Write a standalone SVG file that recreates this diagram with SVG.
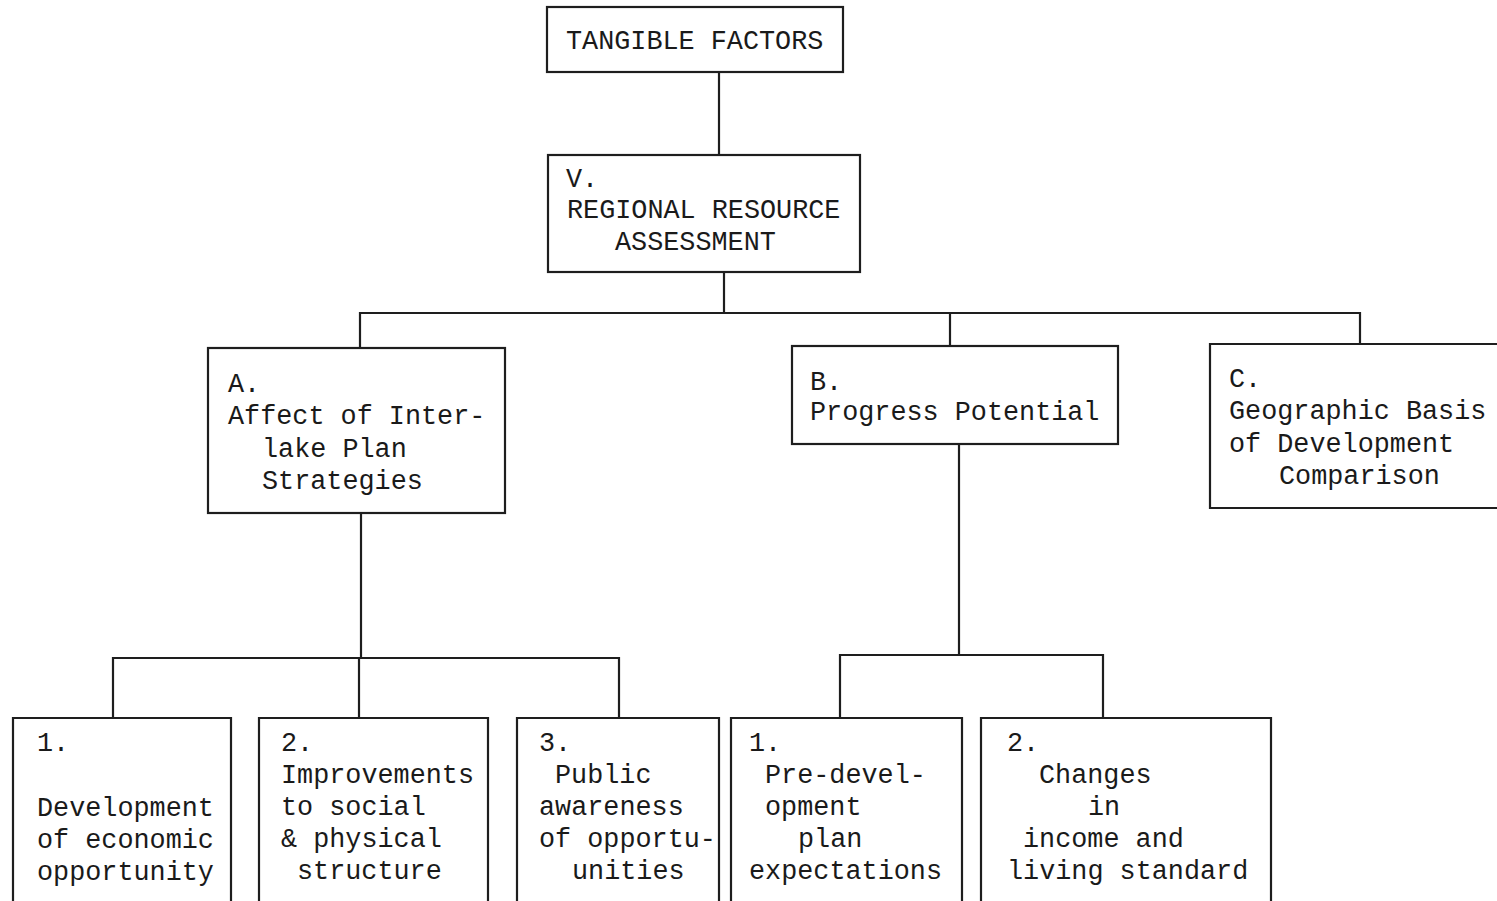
<svg xmlns="http://www.w3.org/2000/svg" width="1497" height="901" viewBox="0 0 1497 901">
  <style>
    .box { fill: none; stroke: #1e1e1e; stroke-width: 2.2; }
    .wire { fill: none; stroke: #1e1e1e; stroke-width: 2.2; }
    text { font-family: "Liberation Mono", "Courier New", monospace; font-size: 26.8px; fill: #1a1a1a; }
  </style>
  <rect width="1497" height="901" fill="#ffffff"/>

  <!-- connectors -->
  <g id="connectors">
    <path class="wire" d="M719 72 V155"/>
    <path class="wire" d="M724 272 V313"/>
    <path class="wire" d="M360 348 V313 H1360 V344"/>
    <path class="wire" d="M950 313 V346"/>
    <path class="wire" d="M361 513 V658"/>
    <path class="wire" d="M113 718 V658 H619 V718"/>
    <path class="wire" d="M359 658 V718"/>
    <path class="wire" d="M959 444 V655"/>
    <path class="wire" d="M840 718 V655 H1103 V718"/>
  </g>

  <g id="tangible-factors">
    <rect class="box" x="547" y="7" width="296" height="65"/>
    <text x="566" y="49">TANGIBLE FACTORS</text>
  </g>

  <g id="regional-resource-assessment">
    <rect class="box" x="548" y="155" width="312" height="117"/>
    <text x="566" y="187">V.</text>
    <text x="567" y="218">REGIONAL RESOURCE</text>
    <text x="615" y="250">ASSESSMENT</text>
  </g>

  <g id="node-a">
    <rect class="box" x="208" y="348" width="297" height="165"/>
    <text x="228" y="392">A.</text>
    <text x="228" y="424">Affect of Inter-</text>
    <text x="262" y="457">lake Plan</text>
    <text x="262" y="489">Strategies</text>
  </g>

  <g id="node-b">
    <rect class="box" x="792" y="346" width="326" height="98"/>
    <text x="810" y="390">B.</text>
    <text x="810" y="420">Progress Potential</text>
  </g>

  <g id="node-c">
    <path class="box" d="M1500 344 H1210 V508 H1500"/>
    <text x="1229" y="387">C.</text>
    <text x="1229" y="419">Geographic Basis</text>
    <text x="1229" y="452">of Development</text>
    <text x="1279" y="484">Comparison</text>
  </g>

  <g id="node-a1">
    <path class="box" d="M13 905 V718 H231 V905"/>
    <text x="37" y="751">1.</text>
    <text x="37" y="816">Development</text>
    <text x="37" y="848">of economic</text>
    <text x="37" y="880">opportunity</text>
  </g>

  <g id="node-a2">
    <path class="box" d="M259 905 V718 H488 V905"/>
    <text x="281" y="751">2.</text>
    <text x="281" y="783">Improvements</text>
    <text x="281" y="815">to social</text>
    <text x="281" y="847">&amp; physical</text>
    <text x="297" y="879">structure</text>
  </g>

  <g id="node-a3">
    <path class="box" d="M517 905 V718 H719 V905"/>
    <text x="539" y="751">3.</text>
    <text x="555" y="783">Public</text>
    <text x="539" y="815">awareness</text>
    <text x="539" y="847">of opportu-</text>
    <text x="572" y="879">unities</text>
  </g>

  <g id="node-b1">
    <path class="box" d="M731 905 V718 H962 V905"/>
    <text x="749" y="751">1.</text>
    <text x="765" y="783">Pre-devel-</text>
    <text x="765" y="815">opment</text>
    <text x="798" y="847">plan</text>
    <text x="749" y="879">expectations</text>
  </g>

  <g id="node-b2">
    <path class="box" d="M981 905 V718 H1271 V905"/>
    <text x="1007" y="751">2.</text>
    <text x="1039" y="783">Changes</text>
    <text x="1088" y="815">in</text>
    <text x="1023" y="847">income and</text>
    <text x="1007" y="879">living standard</text>
  </g>
</svg>
